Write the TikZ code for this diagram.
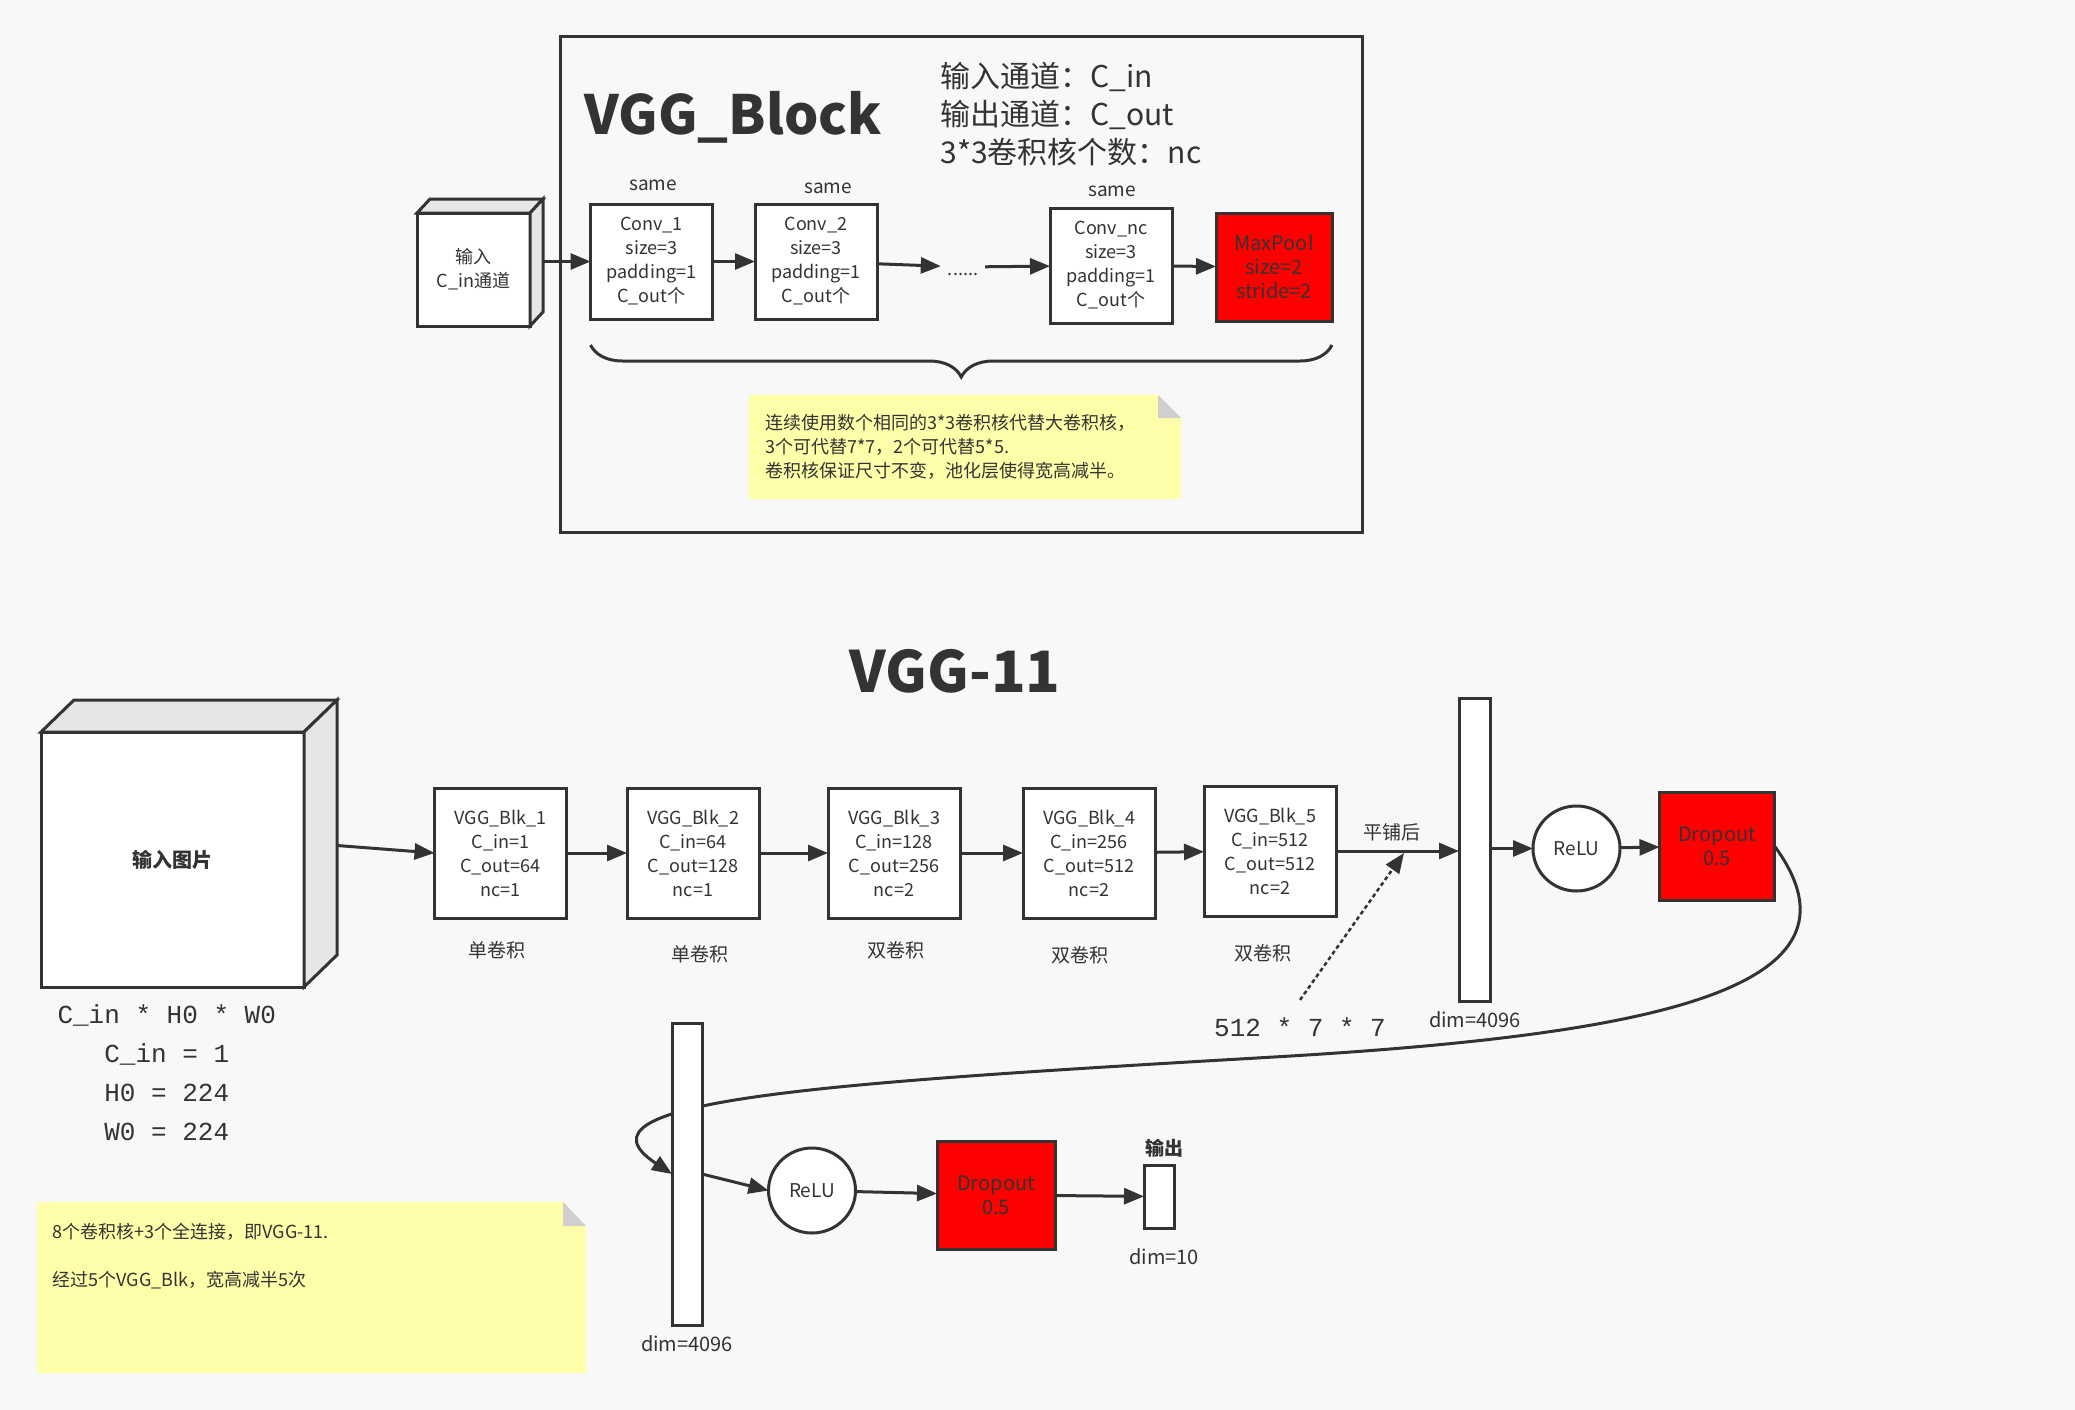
\documentclass[tikz,border=0pt]{standalone}
\usepackage{fontspec}
\setmainfont{Noto Sans CJK SC}
\newfontfamily\dimmono{Liberation Mono}
\usepackage{xcolor}
\usepackage{tikz}
\usetikzlibrary{shapes.geometric, arrows.meta, positioning, decorations.pathreplacing, backgrounds}

\definecolor{inkc}{HTML}{333333}
\definecolor{pagebg}{HTML}{F8F8F8}
\definecolor{notey}{HTML}{FFFFAA}
\definecolor{foldc}{HTML}{CFCFCF}
\definecolor{sidec}{HTML}{E6E6E6}
\definecolor{poolred}{HTML}{FF0000}

\begin{document}
\begin{tikzpicture}[
    x=1pt, y=-1pt,
    every node/.style={text=inkc},
    blk/.style={rectangle, draw=inkc, line width=3pt, fill=white, outer sep=0pt, align=center, font=\fontsize{18}{24}\selectfont},
    poolblk/.style={blk, fill=poolred, font=\fontsize{20}{24}\selectfont},
    bar/.style={rectangle, draw=inkc, line width=3pt, fill=white, outer sep=0pt, inner sep=0pt, minimum width=31pt},
    act/.style={ellipse, draw=inkc, line width=3pt, fill=white, outer sep=0pt, inner sep=0pt, minimum width=87pt, minimum height=85pt, font=\fontsize{19}{24}\selectfont},
    face/.style={draw=inkc, fill=sidec, line width=3pt},
    lbl/.style={font=\fontsize{19}{24}\selectfont},
    dimlbl/.style={font=\fontsize{20}{24}\selectfont},
    arrow/.style={draw=inkc, line width=3pt, -{Triangle[length=20pt,width=16pt]}},
    flatarrow/.style={arrow, line width=2.5pt, dash pattern=on 4pt off 3pt},
    brc/.style={draw=inkc, line width=3pt, decorate, decoration={brace, mirror, amplitude=32pt}},
    notetxt/.style={anchor=west, align=left, font=\fontsize{18}{24}\selectfont}
]
\useasboundingbox (0,0) rectangle (2075,1410);
\begin{pgfonlayer}{background}
\fill[pagebg] (0,0) rectangle (2075,1410);
\end{pgfonlayer}

% VGG_Block
\node[draw=inkc, line width=3pt, minimum width=802pt, minimum height=495pt, outer sep=0pt] (blockbox) at (961,284.5) {};
\node[anchor=base, font=\fontsize{54}{60}\selectfont\bfseries] (blocktitle) at (733,135) {VGG\_Block};
\node[anchor=west, align=left, font=\fontsize{30}{38}\selectfont] (blockinfo) at (937,114) {输入通道：C\_in\\输出通道：C\_out\\3*3卷积核个数：nc};

\node[blk, minimum width=113pt, minimum height=113pt] (incube) at (473.5,269.5) {输入\\C\_in通道};
\path[face] (incube.north west) -- ++(13,-14) -- ([shift={(13,-14)}]incube.north east) -- (incube.north east) -- cycle;
\path[face] (incube.north east) -- ([shift={(13,-14)}]incube.north east) -- ([shift={(13,-14)}]incube.south east) -- (incube.south east) -- cycle;
\coordinate (incubeside) at ([xshift=13pt]incube.east);

\node[blk, minimum width=122pt, minimum height=115pt] (conv1) at (651.5,261.5) {Conv\_1\\size=3\\padding=1\\C\_out个};
\node[blk, minimum width=122pt, minimum height=115pt] (conv2) at (816,261.5) {Conv\_2\\size=3\\padding=1\\C\_out个};
\node[font=\fontsize{18}{24}\selectfont, text height=16pt, text depth=0pt, inner xsep=7pt] (dots) at (963,267) {......};
\node[blk, minimum width=122pt, minimum height=115pt] (convnc) at (1111,265.5) {Conv\_nc\\size=3\\padding=1\\C\_out个};
\node[poolblk, minimum width=116pt, minimum height=108pt] (pool) at (1274,267) {MaxPool\\size=2\\stride=2};

\node[lbl] (same1) at (653,185) {same};
\node[lbl] (same2) at (828,188) {same};
\node[lbl] (samenc) at (1112,191) {same};

\draw[arrow] (incubeside |- conv1.west) -- (conv1.west);
\draw[arrow] (conv1) -- (conv2);
\draw[arrow] (conv2) -- (dots);
\draw[arrow] (dots) -- (convnc);
\draw[arrow] (convnc) -- (pool);

\coordinate (bracel) at ([yshift=-26pt]conv1.south west);
\coordinate (bracer) at (bracel -| pool.south east);
\draw[brc] (bracel) -- (bracer);

% note
\fill[notey] (749,395) -- (1158,395) -- (1181,418) -- (1181,499) -- (749,499) -- cycle;
\fill[foldc] (1158,395) -- (1181,418) -- (1158,418) -- cycle;
\node[notetxt] (notea) at (762,447) {连续使用数个相同的3*3卷积核代替大卷积核，\\3个可代替7*7，2个可代替5*5.\\卷积核保证尺寸不变，池化层使得宽高减半。};

% VGG-11
\node[anchor=base, font=\fontsize{57}{64}\selectfont\bfseries] (nettitle) at (955,692) {VGG-11};

\node[blk, minimum width=263pt, minimum height=255pt, font=\fontsize{20}{24}\selectfont\bfseries] (img) at (172.5,859.5) {输入图片};
\path[face] (img.north west) -- ++(33,-32) -- ([shift={(33,-32)}]img.north east) -- (img.north east) -- cycle;
\path[face] (img.north east) -- ([shift={(33,-32)}]img.north east) -- ([shift={(33,-32)}]img.south east) -- (img.south east) -- cycle;
\coordinate (imgout) at ([shift={(33,-14)}]img.east);
\node[anchor=west, align=left, font=\dimmono\fontsize{26}{39}\selectfont] (imgsize) at (54,1073) {C\_in * H0 * W0\\\hphantom{C\_i}C\_in = 1\\\hphantom{C\_i}H0 = 224\\\hphantom{C\_i}W0 = 224};

\node[blk, minimum width=132pt, minimum height=130pt] (blk1) at (500.5,853) {VGG\_Blk\_1\\C\_in=1\\C\_out=64\\nc=1};
\node[blk, minimum width=132pt, minimum height=130pt] (blk2) at (693,853) {VGG\_Blk\_2\\C\_in=64\\C\_out=128\\nc=1};
\node[blk, minimum width=132pt, minimum height=130pt] (blk3) at (894,853) {VGG\_Blk\_3\\C\_in=128\\C\_out=256\\nc=2};
\node[blk, minimum width=132pt, minimum height=130pt] (blk4) at (1089,853) {VGG\_Blk\_4\\C\_in=256\\C\_out=512\\nc=2};
\node[blk, minimum width=132pt, minimum height=130pt] (blk5) at (1270,851) {VGG\_Blk\_5\\C\_in=512\\C\_out=512\\nc=2};

\node[lbl] (kind1) at (497,950) {单卷积};
\node[lbl] (kind2) at (700,954) {单卷积};
\node[lbl] (kind3) at (896,950) {双卷积};
\node[lbl] (kind4) at (1080,955) {双卷积};
\node[lbl] (kind5) at (1263,953) {双卷积};

\node[bar, minimum height=303pt] (fc1) at (1474.5,849.5) {};
\node[dimlbl] (fc1dim) at (1475,1020) {dim=4096};
\node[lbl] (flatlbl) at (1392,832) {平铺后};
\node[font=\dimmono\fontsize{26}{30}\selectfont] (flatsz) at (1300,1027) {512 * 7 * 7};
\coordinate (flatpt) at (1404,853);

\node[act] (relu1) at (1576.5,848.5) {ReLU};
\node[poolblk, minimum width=115pt, minimum height=108pt] (drop1) at (1717,846) {Dropout\\0.5};

\node[bar, minimum width=30pt, minimum height=302pt] (fc2) at (687,1174) {};
\node[dimlbl] (fc2dim) at (687,1344) {dim=4096};
\node[act] (relu2) at (812,1190.5) {ReLU};
\node[poolblk, minimum width=118pt, minimum height=108pt] (drop2) at (996,1195) {Dropout\\0.5};
\node[bar, minimum width=30pt, minimum height=63pt] (outbar) at (1159,1196.5) {};
\node[font=\fontsize{19}{24}\selectfont\bfseries] (outlbl) at (1164,1148) {输出};
\node[dimlbl] (outdim) at (1164,1257) {dim=10};

% connections
\draw[arrow] (imgout) -- (blk1.west);
\draw[arrow] (blk1) -- (blk2);
\draw[arrow] (blk2) -- (blk3);
\draw[arrow] (blk3) -- (blk4);
\draw[arrow] (blk4) -- (blk5);
\draw[arrow] (blk5.east) -- (blk5.east -| fc1.west);
\draw[flatarrow] ([yshift=14pt]flatsz.north) -- (flatpt);
\draw[arrow] (fc1.east |- relu1) -- (relu1.west);
\draw[arrow] (relu1) -- (drop1);
\begin{scope}[on background layer]
\draw[arrow] (drop1.east) .. controls (1880,990) and (1650,1035) .. (1274,1057) .. controls (824,1083) and (560,1100) .. (fc2.west);
\end{scope}
\draw[arrow] (fc2.east) -- (relu2.west);
\draw[arrow] (relu2) -- (drop2);
\draw[arrow] (drop2) -- (outbar);

% note
\fill[notey] (37,1202) -- (563,1202) -- (586,1226) -- (586,1373) -- (37,1373) -- cycle;
\fill[foldc] (563,1202) -- (586,1226) -- (563,1226) -- cycle;
\node[notetxt] (noteb) at (49,1256) {8个卷积核+3个全连接，即VGG-11.\\[24pt]经过5个VGG\_Blk，宽高减半5次};

\end{tikzpicture}
\end{document}
